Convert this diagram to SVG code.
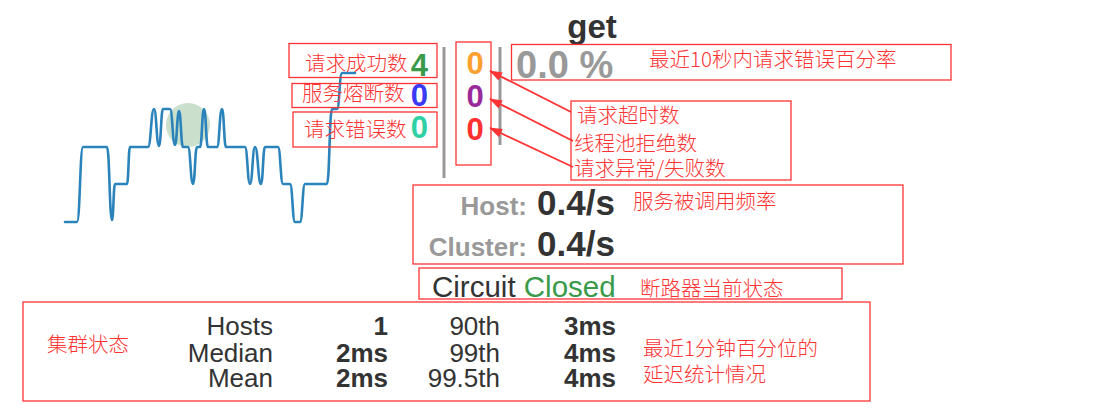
<svg xmlns="http://www.w3.org/2000/svg" width="1112" height="411" viewBox="0 0 1112 411">
<style>
.box{fill:none;stroke:#f33;stroke-width:1.3}
.note{font-family:"Noto Sans CJK SC","Noto Sans",sans-serif;font-size:20.5px;fill:#f33;font-weight:300}
.num{font-family:"Liberation Sans",Arial,sans-serif;font-weight:bold;font-size:31px}
.sep{stroke:#999;stroke-width:3}
.lbl{font-family:"Liberation Sans",Arial,sans-serif;font-size:26px;fill:#333}
.b{font-weight:bold}
.rk{font-family:"Liberation Sans",Arial,sans-serif;font-weight:bold;font-size:26px;fill:#999}
.rv{font-family:"Liberation Sans",Arial,sans-serif;font-weight:bold;font-size:35px;fill:#333}
.arrow{stroke:#f33;stroke-width:1.8;fill:none;marker-end:url(#ah)}
</style>
<defs>
<marker id="ah" viewBox="0 0 13 10" refX="12" refY="5" markerWidth="13" markerHeight="10" orient="auto" markerUnits="userSpaceOnUse">
<path d="M0,0.5 L13,5 L0,9.5 z" fill="#f33"/>
</marker>
</defs>
<rect width="1112" height="411" fill="#fff"/>

<g id="sparkline">
<circle cx="188" cy="125" r="22" fill="#cadfcc"/>
<path fill="none" stroke="#2a83ba" stroke-width="2.6" stroke-linejoin="round" stroke-linecap="round"
d="M65,222 L77,222 C80,222 80,147 83,147 L107,147 C109.5,147 109.5,220 112,220 C113.5,220 113.5,184 115,184 L127,184 C128.5,184 128.5,147 130,147 L148,147 C151,147 151,109 154,109 C156.5,109 156.5,146 159,146 C161,146 161,109 163,109 L170,109 C172.5,109 172.5,145 175,145 C177,145 177,111 179,111 C181,111 181,147 183,147 L188,147 C190.5,147 190.5,184 193,184 C195,184 195,147 197,147 L200,147 C202,147 202,109 204,109 C206,109 206,147 208,147 L217,147 C219.5,147 219.5,109 222,109 C224,109 224,147 226,147 L245,147 C247.5,147 247.5,184 250,184 C252.5,184 252.5,147 255,147 C258,147 258,184 261,184 C263,184 263,147 265,147 L278,147 C280.5,147 280.5,184 283,184 L290,184 C292.5,184 292.5,222 295,222 L300,222 C302.5,222 302.5,184 305,184 L327,184 C329.5,184 329.5,109 332,109 L337,109 C339.5,109 339.5,73 342,73 L355,73"/>
</g>

<g id="title">
<text x="592" y="38" text-anchor="middle" font-family="Liberation Sans, Arial, sans-serif" font-weight="bold" font-size="33" fill="#333">get</text>
</g>

<g id="success-count">
<rect class="box" x="289" y="43.5" width="148" height="34"/>
<text class="note" x="305" y="70.5">请求成功数</text>
<text class="num" x="428" y="76" text-anchor="end" fill="#3a9a4a">4</text>
</g>
<g id="short-circuited-count">
<rect class="box" x="292" y="83.5" width="145" height="24"/>
<text class="note" x="302" y="101">服务熔断数</text>
<text class="num" x="428" y="106" text-anchor="end" fill="#3a3af5">0</text>
</g>
<g id="bad-request-count">
<rect class="box" x="293" y="112" width="144" height="35"/>
<text class="note" x="304" y="137">请求错误数</text>
<text class="num" x="428" y="138" text-anchor="end" fill="#2fd1a4">0</text>
</g>

<g id="separators">
<line class="sep" x1="444" y1="47" x2="444" y2="178"/>
<line class="sep" x1="500" y1="47" x2="500" y2="145"/>
</g>

<g id="failure-counts">
<rect class="box" x="456" y="42" width="35" height="123"/>
<text class="num" x="475" y="74" text-anchor="middle" fill="#ffa030">0</text>
<text class="num" x="475" y="107" text-anchor="middle" fill="#9a2a9a">0</text>
<text class="num" x="475" y="140" text-anchor="middle" fill="#ff3030">0</text>
</g>

<g id="error-rate">
<rect class="box" x="511.5" y="44.5" width="439.5" height="35.5"/>
<text x="516" y="78" font-family="Liberation Sans, Arial, sans-serif" font-weight="bold" font-size="38" fill="#999">0.0 %</text>
<text class="note" x="649" y="67">最近10秒内请求错误百分率</text>
</g>

<g id="failure-legend">
<rect class="box" x="571" y="101" width="220" height="79"/>
<text class="note" x="577" y="123">请求超时数</text>
<text class="note" x="574" y="151">线程池拒绝数</text>
<text class="note" x="574" y="175.5">请求异常/失败数</text>
</g>

<g id="connectors">
<line class="arrow" x1="571" y1="112" x2="490" y2="71"/>
<line class="arrow" x1="573" y1="141" x2="490" y2="99"/>
<line class="arrow" x1="573" y1="167" x2="490" y2="128"/>
</g>

<g id="rates">
<rect class="box" x="413" y="185" width="490" height="79"/>
<text class="rk" x="527" y="215" text-anchor="end">Host:</text>
<text class="rv" x="537" y="215">0.4/s</text>
<text class="rk" x="527" y="256" text-anchor="end">Cluster:</text>
<text class="rv" x="537" y="256">0.4/s</text>
<text class="note" x="633" y="209">服务被调用频率</text>
</g>

<g id="circuit">
<rect class="box" x="419" y="268" width="423" height="31"/>
<text x="432" y="297" font-family="Liberation Sans, Arial, sans-serif" font-size="29.5" fill="#333">Circuit <tspan fill="#3a9a4a">Closed</tspan></text>
<text class="note" x="640" y="296">断路器当前状态</text>
</g>

<g id="cluster-stats">
<rect class="box" x="23" y="302" width="847" height="99"/>
<text class="note" x="47" y="352">集群状态</text>
<g text-anchor="end">
<text class="lbl" x="273" y="335">Hosts</text>
<text class="lbl" x="273" y="362">Median</text>
<text class="lbl" x="273" y="387">Mean</text>
<text class="lbl b" x="388" y="335">1</text>
<text class="lbl b" x="388" y="362">2ms</text>
<text class="lbl b" x="388" y="387">2ms</text>
<text class="lbl" x="500" y="335">90th</text>
<text class="lbl" x="500" y="362">99th</text>
<text class="lbl" x="500" y="387">99.5th</text>
<text class="lbl b" x="616" y="335">3ms</text>
<text class="lbl b" x="616" y="362">4ms</text>
<text class="lbl b" x="616" y="387">4ms</text>
</g>
<text class="note" x="643" y="356">最近1分钟百分位的</text>
<text class="note" x="643" y="381.5">延迟统计情况</text>
</g>
</svg>
